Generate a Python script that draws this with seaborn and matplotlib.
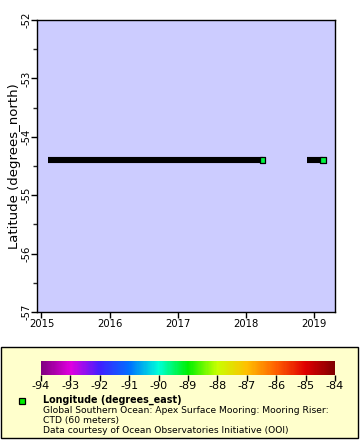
import pandas as pd
import numpy as np
import matplotlib
matplotlib.use("Agg")
import matplotlib.pyplot as plt
import matplotlib.dates as mdates
from matplotlib.colors import LinearSegmentedColormap
from matplotlib.patches import Rectangle
import seaborn as sns

# deployments of the mooring riser CTD (start / end of record)
deploy_start = ["2015-02-06", "2018-11-25"]
deploy_end = ["2018-03-30", "2019-02-18"]
deploy_lat = [-54.40, -54.40]
last_lon = [-89.3, -89.3]

lon_ticks = [-94, -93, -92, -91, -90, -89, -88, -87, -86, -85, -84]
lon_colors = ["#800080", "#e000e0", "#4020ff", "#0070ff", "#00ffd8", "#00f000",
              "#c8ff00", "#ffc000", "#ff6000", "#e00000", "#800000"]
lat_ticks = [-52, -53, -54, -55, -56, -57]

sns.set_style("ticks")
plt.rcParams['font.family'] = ['DejaVu Sans']
plt.rcParams['text.color'] = 'black'
plt.rcParams['axes.unicode_minus'] = False

segs = pd.DataFrame({
    "time": pd.to_datetime(deploy_start + deploy_end),
    "lat": deploy_lat + deploy_lat,
    "dep": [0, 1, 0, 1],
})
last = pd.DataFrame({"time": pd.to_datetime(deploy_end), "lat": deploy_lat, "lon": last_lon})

fig = plt.figure(figsize=(3.6, 4.4), dpi=100)
ax = fig.add_axes([37 / 360, 1 - 312 / 440, 298 / 360, 292 / 440])
ax.set_facecolor("#ccccff")

sns.lineplot(data=segs, x="time", y="lat", units="dep", estimator=None, color="black",
             linewidth=4.4, solid_capstyle="butt", ax=ax, legend=False)

cmap = LinearSegmentedColormap.from_list("erddap", lon_colors)
norm = plt.Normalize(-94, -84)
sns.scatterplot(data=last, x="time", y="lat", marker="s", s=16,
                color=[cmap(norm(v)) for v in last["lon"]], edgecolor="black",
                linewidth=0.9, ax=ax, zorder=5, legend=False)

ax.set_xlim(pd.Timestamp("2014-12-08"), pd.Timestamp("2019-04-22"))
ax.set_ylim(-57, -52)
ax.xaxis.set_major_locator(mdates.YearLocator())
ax.xaxis.set_major_formatter(mdates.DateFormatter("%Y"))
ax.set_yticks(lat_ticks)
ax.set_yticks(np.arange(-57, -51.9, 0.5), minor=True)
ax.set_yticklabels([str(v) for v in lat_ticks], rotation=90, va="center")
ax.tick_params(axis="x", which="major", length=4, width=1, labelsize=7.2, pad=1,
               colors="black")
ax.tick_params(axis="y", which="major", length=4, width=1, labelsize=7.2, pad=0,
               colors="black")
ax.tick_params(axis="y", which="minor", length=3, width=1)
ax.set_xlabel("")
ax.set_ylabel("Latitude (degrees_north)", fontsize=9.5, labelpad=0, color="black")
for s in ax.spines.values():
    s.set_visible(True)
    s.set_linewidth(1)
    s.set_color("black")

# legend box
fig.patches.append(Rectangle((1 / 360, 2 / 440), 357 / 360, 91 / 440, transform=fig.transFigure,
                             facecolor="#ffffcc", edgecolor="black", linewidth=1, zorder=-5))

cax = fig.add_axes([41 / 360, 1 - 375 / 440, 294 / 360, 14 / 440])
cax.set_zorder(5)
cb = matplotlib.colorbar.ColorbarBase(cax, cmap=cmap, norm=norm, orientation="horizontal",
                                      ticks=lon_ticks)
cb.outline.set_visible(False)
cax.tick_params(length=4, width=1, labelsize=8, pad=0.5, colors="black")

fig.add_artist(Rectangle((19 / 360, 1 - 404 / 440), 6 / 360, 6 / 440, transform=fig.transFigure,
                         facecolor="#00f000", edgecolor="black", linewidth=0.9))
fs = 6.6
fig.text(43 / 360, 1 - 400 / 440, "Longitude (degrees_east)", fontsize=fs + 0.3,
         fontweight="bold", va="center")
fig.text(43 / 360, 1 - 410 / 440, "Global Southern Ocean: Apex Surface Mooring: Mooring Riser:",
         fontsize=fs, va="center")
fig.text(43 / 360, 1 - 420 / 440, "CTD (60 meters)", fontsize=fs, va="center")
fig.text(43 / 360, 1 - 430 / 440, "Data courtesy of Ocean Observatories Initiative (OOI)",
         fontsize=fs, va="center")

fig.savefig("out.png", dpi=100)
